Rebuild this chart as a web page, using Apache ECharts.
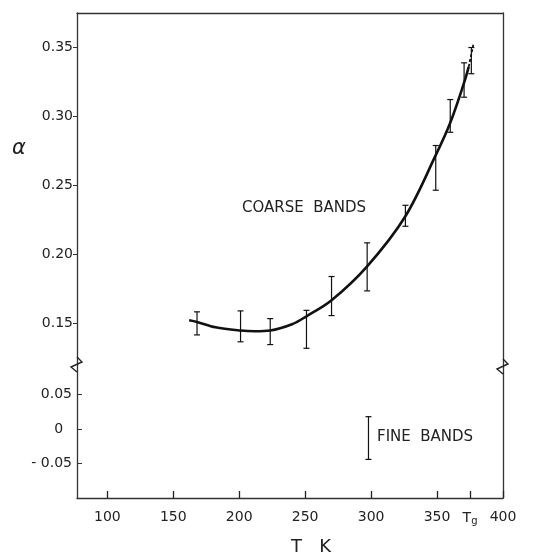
<!DOCTYPE html>
<html>
<head>
<meta charset="utf-8">
<script src="https://cdn.jsdelivr.net/npm/echarts@6/dist/echarts.min.js"></script>
<style>
  html, body { margin: 0; padding: 0; background: #fff; }
  #chart { width: 545px; height: 555px; }
</style>
</head>
<body>
<div id="chart"></div>
<script>
// coarse bands: temperature (K), error bar low / high
const barTemps = [168, 201, 223.5, 251, 270, 297, 326, 349, 360, 370.5, 376];
const barLow = [0.1418, 0.1368, 0.1348, 0.1321, 0.1558, 0.1737, 0.2205, 0.2466, 0.2886, 0.3140, 0.331];
const barHigh = [0.1585, 0.1592, 0.1536, 0.1596, 0.1841, 0.2085, 0.2357, 0.2790, 0.3123, 0.3389, 0.350];

// fitted curve
const curveTemps = [162, 168, 182, 201, 212, 223.5, 240, 251, 270, 297, 326, 349, 360, 370.5, 374];
const curveAlpha = [0.1524, 0.1512, 0.1473, 0.1450, 0.1445, 0.1450, 0.1495, 0.1553, 0.1669, 0.1915, 0.2278, 0.2720, 0.2955, 0.3245, 0.3360];
const dashTemps = [374, 377.5];
const dashAlpha = [0.3360, 0.3520];

// fine bands scale bar
const fineTemp = [298];
const fineLow = [-0.044];
const fineHigh = [0.018];

// ticks
const xTicks = [100, 150, 200, 250, 300, 350, 375, 400];
const yTicksUpper = [0.15, 0.20, 0.25, 0.30, 0.35];
const yTicksLower = [-0.05, 0, 0.05];

const chart = echarts.init(document.getElementById('chart'));

const ink = '#111';
const frame = { show: true, onZero: false, lineStyle: { color: '#333', width: 1.3 } };
const font = 'DejaVu Sans';

// 误差线
const errorBar = (params, api) => {
  const x = api.value(0);
  const lo = api.coord([x, api.value(1)]);
  const hi = api.coord([x, api.value(2)]);
  const w = 3;
  const style = { stroke: ink, lineWidth: 1.2 };
  return {
    type: 'group',
    children: [
      { type: 'line', shape: { x1: hi[0], y1: hi[1], x2: lo[0], y2: lo[1] }, style },
      { type: 'line', shape: { x1: hi[0] - w, y1: hi[1], x2: hi[0] + w, y2: hi[1] }, style },
      { type: 'line', shape: { x1: lo[0] - w, y1: lo[1], x2: lo[0] + w, y2: lo[1] }, style },
    ],
  };
};

// 断轴折线
const zig = (x, y) => ({
  type: 'polyline',
  z: 10,
  shape: { points: [[x, y - 8], [x + 5, y - 3], [x - 6, y + 2], [x, y + 7]] },
  style: { stroke: '#222', lineWidth: 1.4, fill: null },
});

const option = {
  backgroundColor: '#fff',
  animation: false,
  grid: [
    { left: 77, right: 42, top: 13, height: 352, outerBoundsMode: 'none' },
    { left: 77, right: 42, top: 365, bottom: 57, outerBoundsMode: 'none' },
  ],
  xAxis: [
    {
      gridIndex: 0, type: 'value', min: 77, max: 400, position: 'top',
      axisLine: frame, axisTick: { show: false }, axisLabel: { show: false }, splitLine: { show: false },
    },
    {
      gridIndex: 1, type: 'value', min: 77, max: 400, position: 'bottom',
      axisLine: frame,
      axisTick: { show: true, inside: true, length: 7, lineStyle: { color: '#222', width: 1.3 }, customValues: xTicks },
      axisLabel: {
        customValues: xTicks, margin: 12, color: '#222', fontFamily: font, fontSize: 14,
        formatter: (v) => (v === 375 ? '{t|T}{g|g}' : String(v)),
        rich: {
          t: { fontFamily: font, fontSize: 14, color: '#222', lineHeight: 16 },
          g: { fontFamily: font, fontSize: 10, color: '#222', lineHeight: 16, padding: [7, 0, 0, 0] },
        },
      },
      splitLine: { show: false },
    },
  ],
  yAxis: [
    {
      gridIndex: 0, type: 'value', min: 0.12, max: 0.375, position: 'left',
      axisLine: frame,
      axisTick: { show: true, inside: false, length: 4, lineStyle: { color: '#333' }, customValues: yTicksUpper },
      axisLabel: {
        customValues: yTicksUpper, margin: 4, color: '#222', fontFamily: font, fontSize: 14,
        formatter: (v) => v.toFixed(2),
      },
      splitLine: { show: false },
    },
    {
      gridIndex: 0, type: 'value', min: 0.12, max: 0.375, position: 'right',
      axisLine: frame, axisTick: { show: false }, axisLabel: { show: false }, splitLine: { show: false },
    },
    {
      gridIndex: 1, type: 'value', min: -0.1, max: 0.093, position: 'left',
      axisLine: frame,
      axisTick: { show: true, inside: true, length: 5, lineStyle: { color: '#333' }, customValues: yTicksLower },
      axisLabel: {
        customValues: yTicksLower, margin: 5, color: '#222', fontFamily: font, fontSize: 14,
        formatter: (v) => (v < 0 ? '- ' + Math.abs(v).toFixed(2) : v === 0 ? '0  ' : v.toFixed(2)),
      },
      splitLine: { show: false },
    },
    {
      gridIndex: 1, type: 'value', min: -0.1, max: 0.093, position: 'right',
      axisLine: frame, axisTick: { show: false }, axisLabel: { show: false }, splitLine: { show: false },
    },
  ],
  series: [
    {
      type: 'line', xAxisIndex: 0, yAxisIndex: 0, smooth: 0.35, showSymbol: false,
      lineStyle: { color: ink, width: 2.6 },
      data: curveTemps.map((t, i) => [t, curveAlpha[i]]),
    },
    {
      type: 'line', xAxisIndex: 0, yAxisIndex: 0, showSymbol: false,
      lineStyle: { color: ink, width: 1.8, type: [3, 2] },
      data: dashTemps.map((t, i) => [t, dashAlpha[i]]),
    },
    {
      type: 'custom', xAxisIndex: 0, yAxisIndex: 0, renderItem: errorBar,
      encode: { x: 0, y: [1, 2] },
      data: barTemps.map((t, i) => [t, barLow[i], barHigh[i]]),
    },
    {
      type: 'custom', xAxisIndex: 1, yAxisIndex: 2, renderItem: errorBar,
      encode: { x: 0, y: [1, 2] },
      data: fineTemp.map((t, i) => [t, fineLow[i], fineHigh[i]]),
    },
  ],
  graphic: [
    zig(77, 365),
    zig(503, 367),
    { type: 'text', left: 12, top: 138, style: { text: 'α', font: 'italic 21px "DejaVu Sans"', fill: '#222' } },
    { type: 'text', left: 242, top: 201, style: { text: 'COARSE  BANDS', font: '15px "DejaVu Sans"', fill: '#222' } },
    { type: 'text', left: 377, top: 430, style: { text: 'FINE  BANDS', font: '15px "DejaVu Sans"', fill: '#222' } },
    { type: 'text', left: 291, top: 538, style: { text: 'T   K', font: '18px "DejaVu Sans"', fill: '#222' } },
  ],
};

chart.setOption(option);
</script>
</body>
</html>
